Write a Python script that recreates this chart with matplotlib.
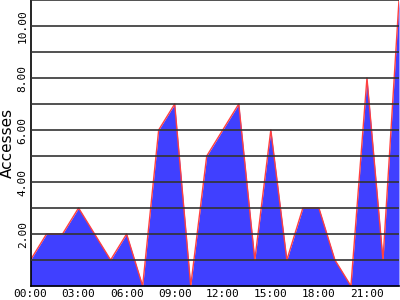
import numpy as np
import matplotlib
matplotlib.use("Agg")
import matplotlib.pyplot as plt

# hourly access counts, 00:00 .. 23:00
hours    = np.arange(24)
accesses = [1, 2, 2, 3, 2, 1, 2, 0, 6, 7, 0, 5, 6, 7, 1, 6, 1, 3, 3, 1, 0, 8, 1, 11]

xticks  = [0, 3, 6, 9, 12, 15, 18, 21]
xlabels = ["00:00", "03:00", "06:00", "09:00", "12:00", "15:00", "18:00", "21:00"]
yticks  = [2, 4, 6, 8, 10]

plt.rcParams['font.family'] = ['DejaVu Sans Mono']

fig = plt.figure(figsize=(4, 3), dpi=100)
ax  = fig.add_axes([30.5/400, 14/300, 368.5/400, 286/300])

ax.fill_between(hours, accesses, 0, color=(.25, .25, 1.0), linewidth=0, antialiased=False, zorder=1)
ax.plot(hours, accesses, color=(1.0, .25, .25), linewidth=1, zorder=2)

for t in range(1, 12):
    ax.axhline(t, color='#333333', linewidth=1.2, zorder=3)

ax.set_xlim(0, 23)
ax.set_ylim(0, 11)

ax.set_xticks(xticks)
ax.set_xticklabels(xlabels, fontsize=8)
ax.set_yticks(yticks)
ax.set_yticklabels(["{:.2f}".format(v) for v in yticks], fontsize=8, rotation=90, va='center')
ax.tick_params(length=0, pad=2)

ax.set_ylabel("Accesses", fontsize=11, family='DejaVu Sans', labelpad=2)

for side in ['top', 'right']:
    ax.spines[side].set_visible(False)
ax.spines['left'].set_linewidth(1.2)
ax.spines['bottom'].set_linewidth(1.2)

fig.savefig("out.png", dpi=100)
